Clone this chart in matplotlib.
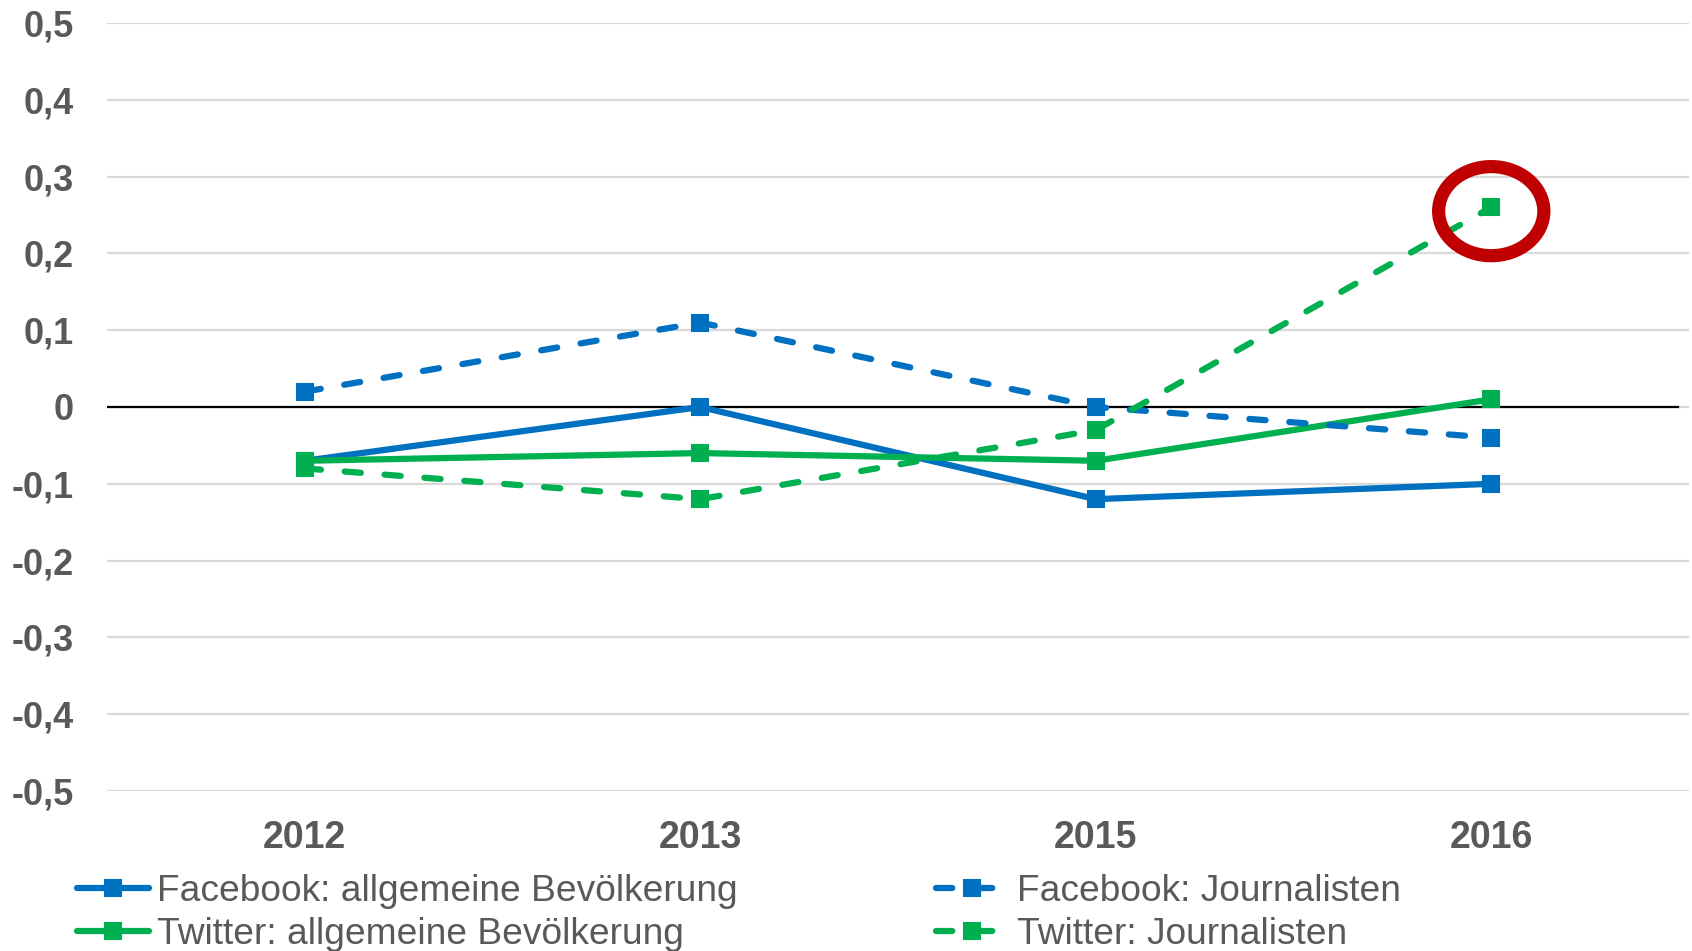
import matplotlib
matplotlib.use("Agg")
import matplotlib.pyplot as plt
from matplotlib.patches import Ellipse

plt.rcParams['font.family'] = ['Liberation Sans', 'DejaVu Sans']

years = ["2012", "2013", "2015", "2016"]
fb_allg = [-0.07, 0.00, -0.12, -0.10]
fb_journ = [0.02, 0.11, 0.00, -0.04]
tw_allg = [-0.07, -0.06, -0.07, 0.01]
tw_journ = [-0.08, -0.12, -0.03, 0.26]
yticks = [-0.5, -0.4, -0.3, -0.2, -0.1, 0.0, 0.1, 0.2, 0.3, 0.4, 0.5]
ytick_labels = ["-0,5", "-0,4", "-0,3", "-0,2", "-0,1", "0", "0,1", "0,2", "0,3", "0,4", "0,5"]

BLUE = "#0070C0"
GREEN = "#00B050"
TXT = "#595959"

W, H = 1692, 951
fig = plt.figure(figsize=(W / 100, H / 100), dpi=100)
ax = fig.add_axes([107 / W, 1 - 791 / H, (1689 - 107) / W, (791 - 23) / H])

x = list(range(len(years)))
lw = 4.5
ms = 11.5
common = dict(marker="s", markersize=ms, markeredgewidth=1.5, linewidth=lw,
              clip_on=False, zorder=3, solid_capstyle="round")
dash = (2.6, 3.8)

ax.plot(x, fb_allg, color=BLUE, label="Facebook: allgemeine Bevölkerung", **common)
ax.plot(x, tw_allg, color=GREEN, label="Twitter: allgemeine Bevölkerung", **common)
ax.plot(x, fb_journ, color=BLUE, label="Facebook: Journalisten",
        dashes=dash, dash_capstyle="round", **common)
ax.plot(x, tw_journ, color=GREEN, label="Twitter: Journalisten",
        dashes=dash, dash_capstyle="round", **common)

ax.set_xlim(-0.5, len(years) - 0.5)
ax.set_ylim(-0.5, 0.5)
ax.set_yticks(yticks)
ax.set_yticklabels(ytick_labels)
ax.set_xticks(x)
ax.set_xticklabels(years)

ax.grid(axis="y", color="#D9D9D9", linewidth=1.6, zorder=0)
ax.grid(axis="x", visible=False)
ax.set_axisbelow(True)
for s in ax.spines.values():
    s.set_visible(False)
ax.axhline(0, xmin=0, xmax=0.993, color="black", linewidth=1.6, zorder=2)

ax.tick_params(axis="both", length=0, labelcolor=TXT)
ax.tick_params(axis="y", pad=24, labelsize=26)
ax.tick_params(axis="x", pad=21, labelsize=27)
for t in ax.get_xticklabels() + ax.get_yticklabels():
    t.set_fontweight("bold")

# red highlight circle around last Twitter: Journalisten point
ell = Ellipse((3, tw_journ[3] - 0.005), width=0.266, height=0.116, fill=False,
              edgecolor="#C00000", linewidth=9.5, zorder=4, clip_on=False)
ax.add_patch(ell)

h, lab = ax.get_legend_handles_labels()
leg = fig.legend(h, lab,
                 loc="upper left", bbox_to_anchor=(77 / W, 1 - 874 / H),
                 ncol=2, frameon=False, fontsize=26.7, handlelength=1.93,
                 handletextpad=0.24, columnspacing=5.35, labelspacing=0.22,
                 borderpad=0, borderaxespad=0)
for t in leg.get_texts():
    t.set_color(TXT)

fig.savefig("out.png", dpi=100)
